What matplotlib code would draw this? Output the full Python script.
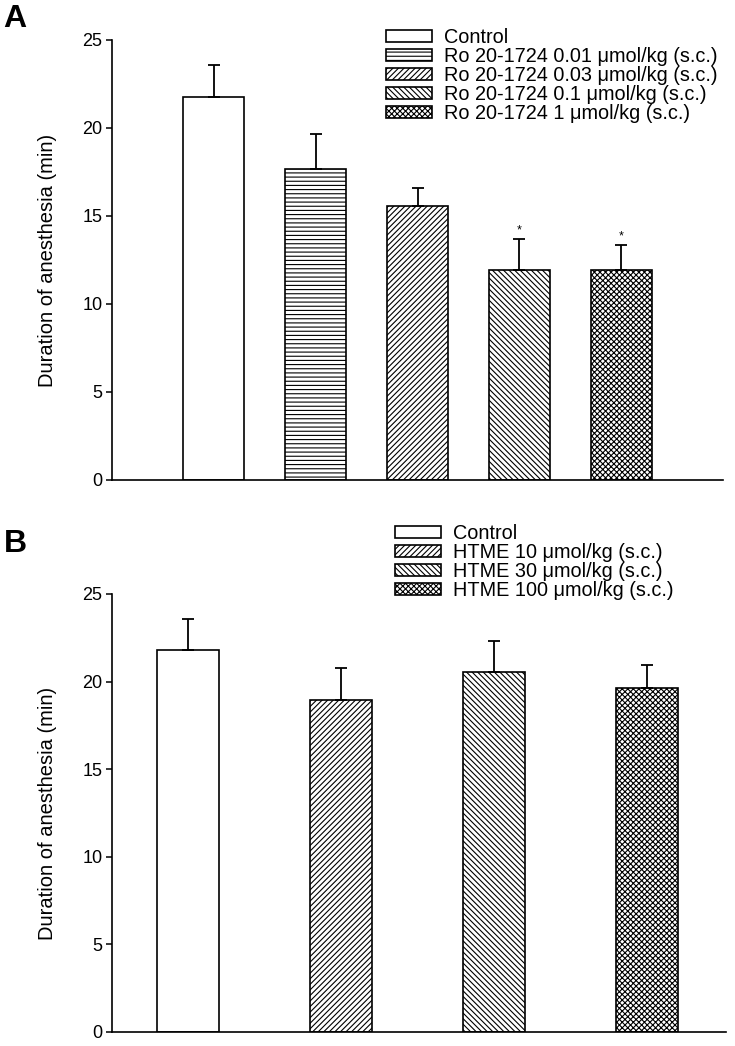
import numpy as np
import matplotlib
matplotlib.use("Agg")
import matplotlib.pyplot as plt

plt.rcParams['font.family'] = ['Liberation Sans', 'DejaVu Sans']
plt.rcParams['hatch.linewidth'] = 0.8

# ---- Data ----
labels_a = ["Control",
            "Ro 20-1724 0.01 \u03bcmol/kg (s.c.)",
            "Ro 20-1724 0.03 \u03bcmol/kg (s.c.)",
            "Ro 20-1724 0.1 \u03bcmol/kg (s.c.)",
            "Ro 20-1724 1 \u03bcmol/kg (s.c.)"]
means_a = [21.78, 17.67, 15.57, 11.93, 11.95]
sem_a = [1.78, 1.99, 1.03, 1.76, 1.40]
sig_a = ["", "", "", "*", "*"]

labels_b = ["Control",
            "HTME 10 \u03bcmol/kg (s.c.)",
            "HTME 30 \u03bcmol/kg (s.c.)",
            "HTME 100 \u03bcmol/kg (s.c.)"]
means_b = [21.80, 18.93, 20.55, 19.65]
sem_b = [1.76, 1.86, 1.78, 1.28]

yticks = [0, 5, 10, 15, 20, 25]
ylabel = "Duration of anesthesia (min)"

hatches_a = ["", "----", "/" * 6, "\\" * 6, "x" * 6]
hatches_b = ["", "/" * 6, "\\" * 6, "x" * 6]

W, H = 735, 1046
fig = plt.figure(figsize=(W / 100, H / 100), dpi=100)


def px_axes(left, top, right, bottom):
    return fig.add_axes([left / W, 1 - bottom / H, (right - left) / W, (bottom - top) / H])


def draw_panel(ax, means, sems, hatches, labels, width, xlim, sig=None):
    x = np.arange(1, len(means) + 1)
    for xi, m, h, lab in zip(x, means, hatches, labels):
        ax.bar(xi, m, width=width, color="white", edgecolor="black",
               hatch=h, linewidth=1.2, label=lab, zorder=2)
    ax.errorbar(x, means, yerr=[np.zeros(len(means)), sems], fmt="none",
                ecolor="black", elinewidth=1.3, capsize=4.5, capthick=1.3, zorder=3)
    if sig is not None:
        for xi, m, s, t in zip(x, means, sems, sig):
            if t:
                ax.annotate(t, (xi, m + s), xytext=(0, 2), textcoords="offset points",
                            ha="center", va="bottom", fontsize=9)
    ax.set_xlim(*xlim)
    ax.set_ylim(0, 25)
    ax.set_yticks(yticks)
    ax.set_xticks([])
    ax.spines["top"].set_visible(False)
    ax.spines["right"].set_visible(False)
    ax.spines["left"].set_linewidth(1.2)
    ax.spines["bottom"].set_linewidth(1.2)
    ax.tick_params(axis="y", direction="out", length=4, width=1.1, labelsize=13, pad=3)
    ax.set_ylabel(ylabel, fontsize=14.5)
    ax.yaxis.set_label_coords(-0.09, 0.5)


axA = px_axes(112, 40, 723, 480)
draw_panel(axA, means_a, sem_a, hatches_a, labels_a, 0.6, (0, 6), sig_a)
axB = px_axes(112, 594, 726, 1032)
draw_panel(axB, means_b, sem_b, hatches_b, labels_b, 0.405, (0.5, 4.52))

legkw = dict(frameon=False, fontsize=14.3, handlelength=2.32, handleheight=0.6,
             handletextpad=0.62, labelspacing=0.0, borderpad=0, borderaxespad=0,
             loc="upper left", bbox_transform=fig.transFigure)
axA.legend(bbox_to_anchor=(386 / W, 1 - 28 / H), **legkw)
axB.legend(bbox_to_anchor=(395 / W, 1 - 524 / H), **legkw)

fig.text(3 / W, 1 - 4 / H, "A", fontsize=23, fontweight="bold", va="top", ha="left")
fig.text(4 / W, 1 - 529 / H, "B", fontsize=23, fontweight="bold", va="top", ha="left")

fig.savefig("out.png", dpi=100)
